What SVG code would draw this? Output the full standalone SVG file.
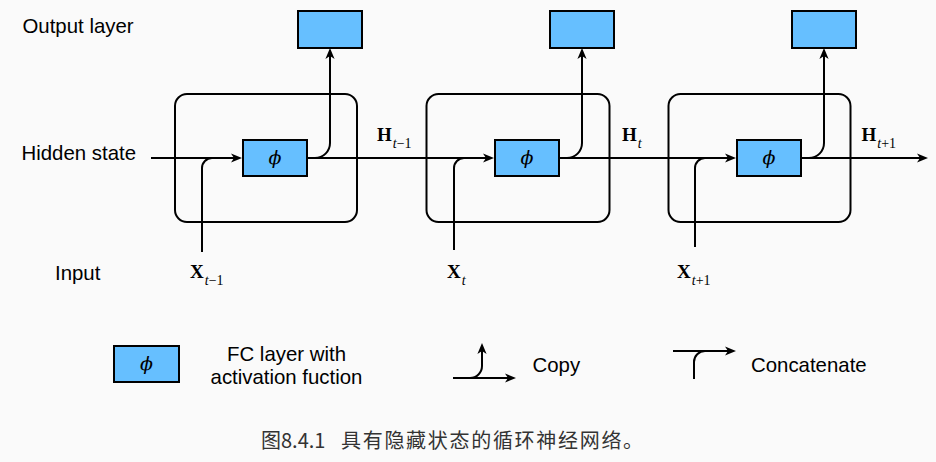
<svg xmlns="http://www.w3.org/2000/svg" width="936" height="462" viewBox="0 0 936 462">
<style>
.bg{fill:#FAFAFA}
.cell{fill:none;stroke:#000;stroke-width:2}
.fc{fill:#66BFFF;stroke:#000;stroke-width:2}
.ln{fill:none;stroke:#000;stroke-width:2}
.lbl{font-family:"Liberation Sans",Arial,sans-serif;font-size:20.4px;fill:#000}
.phi{font-family:"DejaVu Serif","Liberation Serif",serif;font-style:italic;font-size:19px;fill:#000;text-anchor:middle}
.m{font-family:"Liberation Serif","Times New Roman",serif;font-weight:bold;font-size:19px;fill:#000}
.s{font-weight:normal;font-size:14px}
.i{font-style:italic}
.cap{font-family:"Noto Sans CJK SC","Noto Sans",sans-serif;font-size:20px;fill:#333}
</style>
<defs>
<marker id="ah" viewBox="-12 -6 13 12" refX="-3" refY="0" markerWidth="13" markerHeight="12" markerUnits="userSpaceOnUse" orient="auto">
<path d="M0,0 L-11,-4.6 L-8,0 L-11,4.6 Z" fill="#000"/>
</marker>
</defs>
<rect class="bg" x="0" y="0" width="936" height="462"/>

<g id="labels">
<text class="lbl" x="22.5" y="33">Output layer</text>
<text class="lbl" x="21.5" y="160">Hidden state</text>
<text class="lbl" x="55" y="280">Input</text>
</g>

<g id="cell1">
<rect class="cell" x="175" y="94" width="182" height="128" rx="12"/>
<rect class="fc" x="243" y="140" width="64" height="36"/>
<text class="phi" x="275" y="164">ϕ</text>
</g>
<g id="out1"><rect class="fc" x="298" y="11" width="64" height="37"/></g>

<g id="cell2">
<rect class="cell" x="426.5" y="94" width="183" height="128" rx="12"/>
<rect class="fc" x="495" y="140" width="64" height="36"/>
<text class="phi" x="527" y="164">ϕ</text>
</g>
<g id="out2"><rect class="fc" x="550" y="11" width="64" height="37"/></g>

<g id="cell3">
<rect class="cell" x="668.5" y="94" width="182" height="128" rx="12"/>
<rect class="fc" x="737" y="140" width="64" height="36"/>
<text class="phi" x="769" y="164">ϕ</text>
</g>
<g id="out3"><rect class="fc" x="792" y="11" width="64" height="37"/></g>

<g id="connectors">
<path class="ln" d="M151,158 H239" marker-end="url(#ah)"/>
<path class="ln" d="M307,158 H491" marker-end="url(#ah)"/>
<path class="ln" d="M559,158 H733" marker-end="url(#ah)"/>
<path class="ln" d="M801,158 H925" marker-end="url(#ah)"/>
<path class="ln" d="M202,252 V168 A10,10 0 0 1 212,158 H220"/>
<path class="ln" d="M454,250 V168 A10,10 0 0 1 464,158 H472"/>
<path class="ln" d="M695,247 V168 A10,10 0 0 1 705,158 H713"/>
<path class="ln" d="M307,158 H315 A15,15 0 0 0 330,143 V51" marker-end="url(#ah)"/>
<path class="ln" d="M559,158 H567 A15,15 0 0 0 582,143 V51" marker-end="url(#ah)"/>
<path class="ln" d="M801,158 H809 A15,15 0 0 0 824,143 V51" marker-end="url(#ah)"/>
</g>

<g id="math">
<text class="m" x="377" y="141">H<tspan class="s i" dx="1" dy="7">t</tspan><tspan class="s">−1</tspan></text>
<text class="m" x="622" y="141">H<tspan class="s i" dx="1" dy="7">t</tspan></text>
<text class="m" x="861.5" y="141">H<tspan class="s i" dx="1" dy="7">t</tspan><tspan class="s">+1</tspan></text>
<text class="m" x="190" y="278">X<tspan class="s i" dx="1" dy="7">t</tspan><tspan class="s">−1</tspan></text>
<text class="m" x="447" y="278">X<tspan class="s i" dx="1" dy="7">t</tspan></text>
<text class="m" x="677" y="278">X<tspan class="s i" dx="1" dy="7">t</tspan><tspan class="s">+1</tspan></text>
</g>

<g id="legend-fc">
<rect class="fc" x="114" y="346" width="65" height="36"/>
<text class="phi" x="146.5" y="370">ϕ</text>
<text class="lbl" x="286.5" y="361" text-anchor="middle">FC layer with</text>
<text class="lbl" x="286.5" y="384" text-anchor="middle">activation fuction</text>
</g>
<g id="legend-copy">
<path class="ln" d="M453,378 H513" marker-end="url(#ah)"/>
<path class="ln" d="M470,378 A12,12 0 0 0 482,366 V346" marker-end="url(#ah)"/>
<text class="lbl" x="532.5" y="372">Copy</text>
</g>
<g id="legend-concat">
<path class="ln" d="M673,351 H733" marker-end="url(#ah)"/>
<path class="ln" d="M694,379 V362 A11,11 0 0 1 705,351"/>
<text class="lbl" x="751" y="372">Concatenate</text>
</g>

<g id="caption">
<text class="cap" x="261" y="448">图8.4.1</text>
<text class="cap" x="341" y="448" letter-spacing="1.7">具有隐藏状态的循环神经网络。</text>
</g>
</svg>
